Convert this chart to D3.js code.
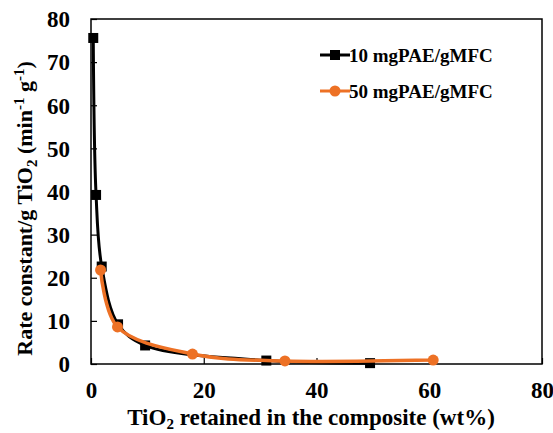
<!DOCTYPE html>
<html>
<head>
<meta charset="utf-8">
<script src="https://cdn.jsdelivr.net/npm/d3@7"></script>
<style>
  body { margin: 0; background: #fff; }
  text { font-family: "Liberation Serif", "Times New Roman", serif; font-weight: bold; fill: #000; }
</style>
</head>
<body>
<div id="chart"></div>
<script>
// data
var series_names = ["10 mgPAE/gMFC", "50 mgPAE/gMFC"];
var black_x = [0.4, 0.9, 1.9, 4.8, 9.6, 31.1, 49.5];
var black_y = [75.6, 39.2, 22.6, 9.2, 4.3, 0.8, 0.2];
var orange_x = [1.7, 4.7, 18.0, 34.4, 60.7];
var orange_y = [21.8, 8.6, 2.3, 0.7, 0.9];
var x_ticks = [0, 20, 40, 60, 80];
var y_ticks = [0, 10, 20, 30, 40, 50, 60, 70, 80];

var margin = {top: 19, right: 11, bottom: 69, left: 91},
    width = 553 - margin.left - margin.right,
    height = 433 - margin.top - margin.bottom;

var svg = d3.select("#chart")
    .append("svg")
    .attr("width", 553)
    .attr("height", 433)
    .append("g")
    .attr("transform", "translate(" + margin.left + "," + margin.top + ")");

var x = d3.scaleLinear().domain([0, 80]).range([0, width]);
var y = d3.scaleLinear().domain([0, 80]).range([height, 0]);

// frame
svg.append("rect")
    .attr("width", width).attr("height", height)
    .attr("fill", "none").attr("stroke", "#000").attr("stroke-width", 1.5);

// axes with inward ticks
var xAxis = svg.append("g")
    .attr("transform", "translate(0," + height + ")")
    .call(d3.axisBottom(x).tickValues(x_ticks).tickSize(-6).tickPadding(16));
var yAxis = svg.append("g")
    .call(d3.axisLeft(y).tickValues(y_ticks).tickSize(-6).tickPadding(21));

[xAxis, yAxis].forEach(function (a) {
    a.select(".domain").remove();
    a.selectAll("line").attr("stroke", "#000").attr("stroke-width", 1.2);
    a.selectAll("text").style("font-size", "23px").style("font-family", "Liberation Serif").style("font-weight", "bold");
});
yAxis.selectAll("text").attr("dy", "0.34em");
xAxis.selectAll("text").attr("dy", "0.8em");

var line = d3.line()
    .x(function (d) { return x(d[0]); })
    .y(function (d) { return y(d[1]); })
    .curve(d3.curveCatmullRom.alpha(0.5));

var black = black_x.map(function (v, i) { return [v, black_y[i]]; });
var orange = orange_x.map(function (v, i) { return [v, orange_y[i]]; });

svg.append("path").datum(black)
    .attr("d", line).attr("fill", "none")
    .attr("stroke", "#000").attr("stroke-width", 3);
svg.selectAll(".sq").data(black).enter().append("rect")
    .attr("x", function (d) { return x(d[0]) - 5; })
    .attr("y", function (d) { return y(d[1]) - 5; })
    .attr("width", 10).attr("height", 10).attr("fill", "#000");

svg.append("path").datum(orange)
    .attr("d", line).attr("fill", "none")
    .attr("stroke", "#ed7125").attr("stroke-width", 3.5);
svg.selectAll(".dot").data(orange).enter().append("circle")
    .attr("cx", function (d) { return x(d[0]); })
    .attr("cy", function (d) { return y(d[1]); })
    .attr("r", 5.5).attr("fill", "#ed7125");

// legend
var legend = svg.append("g").attr("transform", "translate(229,36)");
var colors = ["#000", "#ed7125"];
series_names.forEach(function (name, i) {
    var g = legend.append("g").attr("transform", "translate(0," + i * 36 + ")");
    g.append("line").attr("x1", 0).attr("x2", 30).attr("y1", 0).attr("y2", 0)
        .attr("stroke", colors[i]).attr("stroke-width", 3);
    if (i === 0) {
        g.append("rect").attr("x", 10).attr("y", -5).attr("width", 10).attr("height", 10).attr("fill", "#000");
    } else {
        g.append("circle").attr("cx", 15).attr("cy", 0).attr("r", 5.5).attr("fill", colors[i]);
    }
    g.append("text").attr("x", 29).attr("y", 0).attr("dy", "0.35em")
        .style("font-size", "19px").text(name);
});

// x label
var xl = svg.append("text")
    .attr("x", 220).attr("y", height + 61)
    .attr("text-anchor", "middle")
    .style("font-size", "23px");
xl.append("tspan").text("TiO");
xl.append("tspan").attr("dy", 4).style("font-size", "15px").text("2");
xl.append("tspan").attr("dy", -4).text(" retained in the composite (wt%)");

// y label
var yl = svg.append("text")
    .attr("transform", "translate(-59," + (height / 2 + 17) + ") rotate(-90)")
    .attr("text-anchor", "middle")
    .style("font-size", "22px");
yl.append("tspan").text("Rate constant/g TiO");
yl.append("tspan").attr("dy", 5).style("font-size", "15px").text("2");
yl.append("tspan").attr("dy", -5).text(" (min");
yl.append("tspan").attr("dy", -8).style("font-size", "15px").text("-1");
yl.append("tspan").attr("dy", 8).text(" g");
yl.append("tspan").attr("dy", -8).style("font-size", "15px").text("-1");
yl.append("tspan").attr("dy", 8).text(")");
</script>
</body>
</html>
